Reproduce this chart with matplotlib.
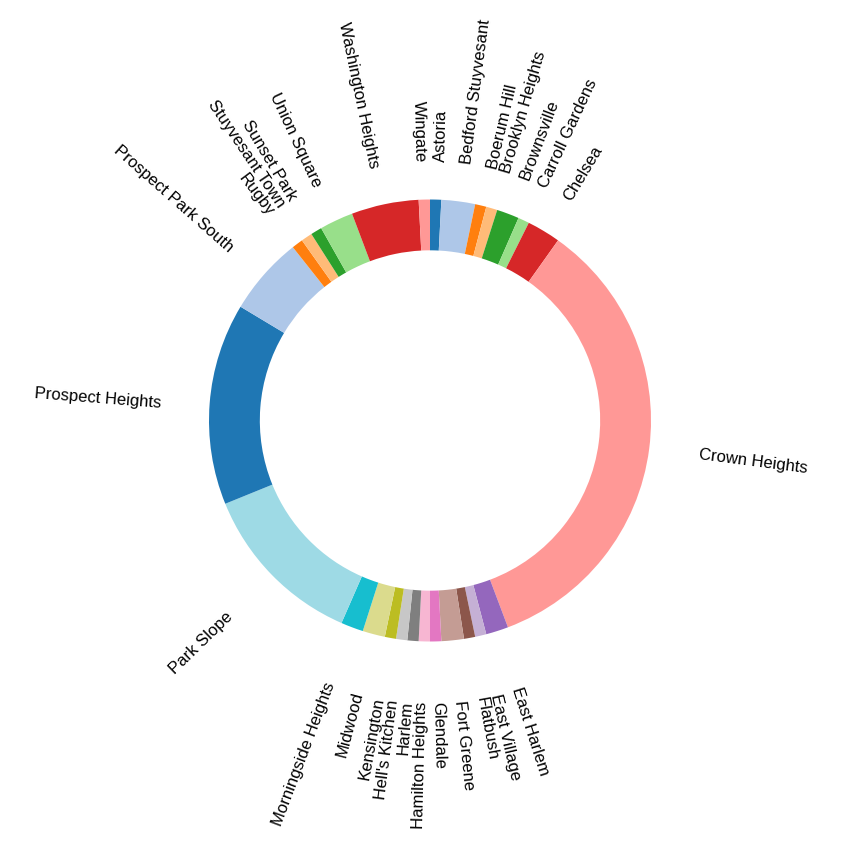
import matplotlib
matplotlib.use("Agg")
import matplotlib.pyplot as plt
import numpy as np

plt.rcParams['font.family'] = ['Liberation Sans', 'DejaVu Sans']

# neighbourhoods (alphabetical) and their counts
neighbourhoods = [
    "Astoria", "Bedford Stuyvesant", "Boerum Hill", "Brooklyn Heights",
    "Brownsville", "Carroll Gardens", "Chelsea", "Crown Heights",
    "East Harlem", "East Village", "Flatbush", "Fort Greene", "Glendale",
    "Hamilton Heights", "Harlem", "Hell's Kitchen", "Kensington", "Midwood",
    "Morningside Heights", "Park Slope", "Prospect Heights",
    "Prospect Park South", "Rugby", "Stuyvesant Town", "Sunset Park",
    "Union Square", "Washington Heights", "Wingate",
]
counts = [
    1, 3, 1, 1,
    2, 1, 3, 42,
    2, 1, 1, 2, 1,
    1, 1, 1, 1, 2,
    2, 15, 18,
    7, 1, 1, 1,
    3, 6, 1,
]

colors = list(plt.cm.tab20.colors) * 2

fig = plt.figure(figsize=(8.42, 8.42), dpi=100)
ax = fig.add_axes([0, 0, 1, 1])

wedges, _ = ax.pie(counts, colors=colors[:len(counts)],
                   startangle=90, counterclock=False, radius=1.0,
                   wedgeprops=dict(width=0.23, linewidth=0))

# radial labels outside the ring (label circle sits a little lower)
scale = 221.0          # pixels per unit radius
dist = 270 / scale
drop = 11.5 / scale
nudge = 2.0 / scale    # small sideways push away from the vertical axis
for w, name in zip(wedges, neighbourhoods):
    deg = (w.theta1 + w.theta2) / 2
    ang = np.deg2rad(deg)
    r = dist - drop * np.sin(ang)
    x = r * np.cos(ang)
    y = r * np.sin(ang)
    tx, ty = -np.sin(ang), np.cos(ang)
    if tx * x < 0:
        tx, ty = -tx, -ty
    x += nudge * tx
    y += nudge * ty
    if x >= 0:
        ha, rot = 'left', deg
    else:
        ha, rot = 'right', deg + 180
    ax.text(x, y, name, ha=ha, va='center_baseline', rotation=rot,
            rotation_mode='anchor', fontsize=12)

# place the donut like the original (centre at ~430, 420 px, radius 221 px)
ax.set_xlim(-430 / scale, (842 - 430) / scale)
ax.set_ylim(-(842 - 420.5) / scale, 420.5 / scale)
ax.set_aspect('auto')
ax.axis('off')

plt.savefig("out.png", dpi=100)
